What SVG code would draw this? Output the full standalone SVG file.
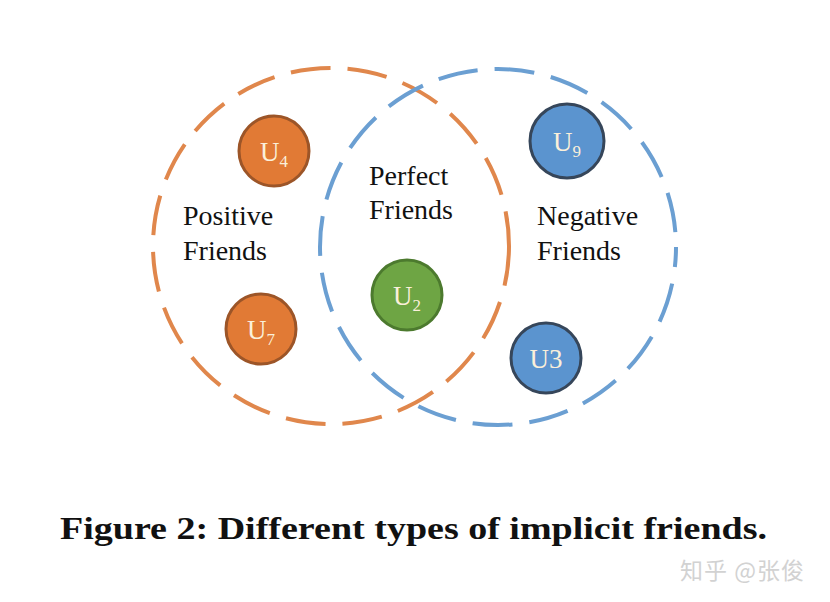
<svg xmlns="http://www.w3.org/2000/svg" width="830" height="602" viewBox="0 0 830 602">
<style>
.ring{fill:none;stroke-width:4;stroke-dasharray:40 17}
.lab{font-family:"Liberation Serif","Times New Roman",serif;font-size:28px;fill:#111}
.nl{font-family:"Liberation Serif","Times New Roman",serif;font-size:27px;fill:#FBF0DA;text-anchor:middle}
.sub{font-size:17px}
.or{fill:#E17A35;stroke:#9C5528;stroke-width:3}
.gr{fill:#6EA544;stroke:#4C7A2E;stroke-width:3}
.bl{fill:#5B94CF;stroke:#36465A;stroke-width:3}
</style>
<rect width="830" height="602" fill="#FFFFFF"/>
<g id="connectors">
<circle id="orange-set" class="ring" cx="331" cy="246" r="178" stroke="#E0874C"/>
<circle id="blue-set" class="ring" cx="498" cy="247" r="178" stroke="#6B9FD2" stroke-dashoffset="20"/>
</g>
<g id="positive-label"><text class="lab" x="183" y="225">Positive</text><text class="lab" x="183" y="260">Friends</text></g>
<g id="perfect-label"><text class="lab" x="369" y="185">Perfect</text><text class="lab" x="369" y="219">Friends</text></g>
<g id="negative-label"><text class="lab" x="537" y="225">Negative</text><text class="lab" x="537" y="260">Friends</text></g>
<g id="U4"><circle class="or" cx="274" cy="151" r="35"/><text class="nl" x="274" y="161">U<tspan class="sub" dy="6">4</tspan></text></g>
<g id="U7"><circle class="or" cx="261" cy="329" r="35"/><text class="nl" x="261" y="339">U<tspan class="sub" dy="6">7</tspan></text></g>
<g id="U2"><circle class="gr" cx="407" cy="295" r="35"/><text class="nl" x="407" y="305">U<tspan class="sub" dy="6">2</tspan></text></g>
<g id="U9"><circle class="bl" cx="567" cy="141" r="37"/><text class="nl" x="567" y="151">U<tspan class="sub" dy="6">9</tspan></text></g>
<g id="U3"><circle class="bl" cx="546" cy="358" r="35"/><text class="nl" x="546" y="368">U3</text></g>
<text x="60" y="539" font-family="'Liberation Serif','Times New Roman',serif" font-weight="bold" font-size="31" fill="#111" textLength="707" lengthAdjust="spacingAndGlyphs">Figure 2: Different types of implicit friends.</text>
<text x="680" y="579" font-family="'Noto Sans CJK SC',sans-serif" font-size="23" fill="#D2D2D2" textLength="124" lengthAdjust="spacing">知乎 @张俊</text>
</svg>
